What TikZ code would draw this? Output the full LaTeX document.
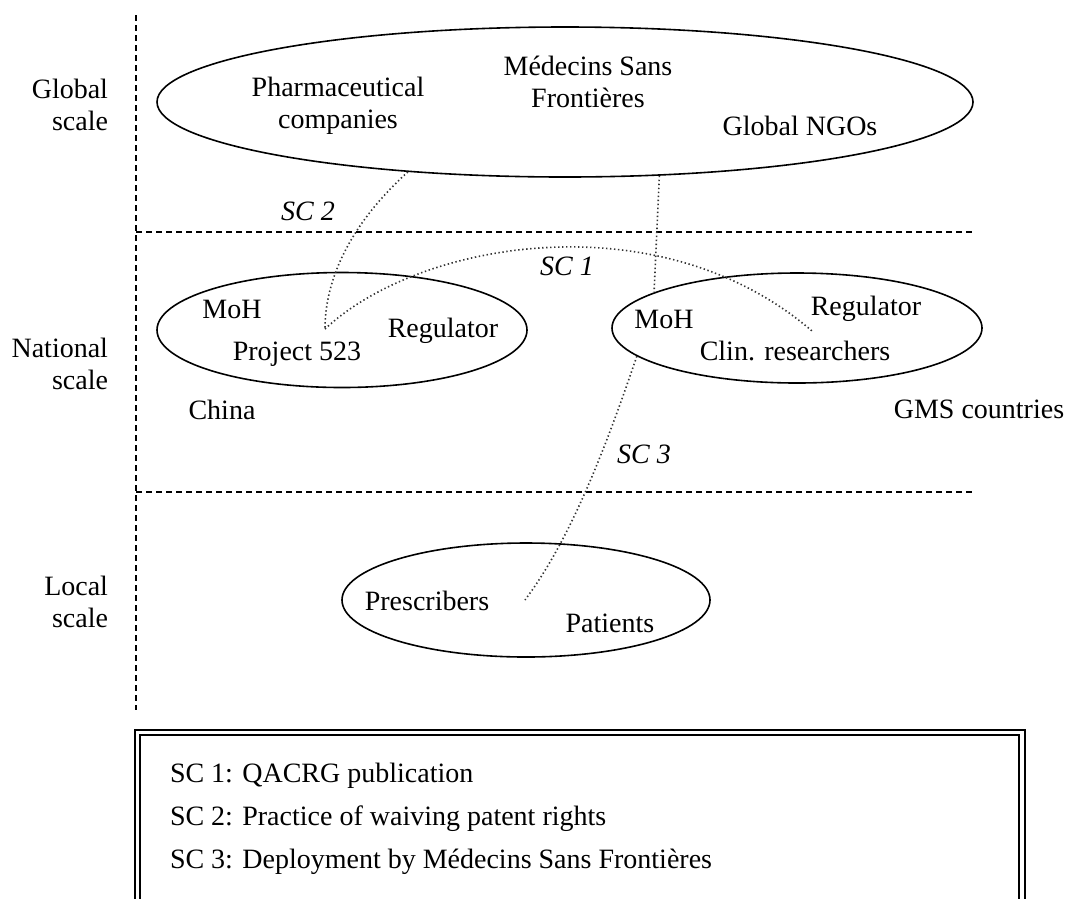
\documentclass[tikz,border=0pt]{standalone}
\usepackage{fontspec}
\setmainfont{Liberation Serif}
\usetikzlibrary{shapes.geometric}
\tikzset{
  txt/.style={font=\fontsize{28}{32}\selectfont, inner sep=0pt, outer sep=0pt},
  sclabel/.style={font=\fontsize{28}{32}\selectfont\itshape, inner sep=0pt},
  scaleline/.style={draw, line width=1.3pt, dash pattern=on 6pt off 4pt},
  region/.style={draw, ellipse, line width=1.6pt, inner sep=0pt},
  link/.style={draw=black!80, line width=1.6pt, dash pattern=on 1.4pt off 2.6pt},
  frameout/.style={draw, line width=2.4pt},
  framein/.style={draw, line width=1.4pt}
}
\begin{document}
\begin{tikzpicture}[x=1pt,y=-1pt]
\clip (0,0) rectangle (1067,898);
\fill[white] (0,0) rectangle (1067,898);

% scale separators
\coordinate (vtop) at (136,15);
\coordinate (vbot) at (136,710);
\coordinate (h1a) at (136,232);
\coordinate (h1b) at (975,232);
\coordinate (h2a) at (136,492);
\coordinate (h2b) at (975,492);
\draw[scaleline] (vtop) -- (vbot);
\draw[scaleline] (h1a) -- (h1b);
\draw[scaleline] (h2a) -- (h2b);

% scale labels (base = baseline of the last line)
\node[txt, align=right, anchor=base east] (lglobal) at (108,130) {Global\\scale};
\node[txt, align=right, anchor=base east] (lnational) at (108,389) {National\\scale};
\node[txt, align=right, anchor=base east] (llocal) at (108,627) {Local\\scale};

% ellipses
\node[region, minimum width=816pt, minimum height=150pt] (global) at (565,102) {};
\node[region, minimum width=370pt, minimum height=115pt] (china) at (342,330) {};
\node[region, minimum width=370pt, minimum height=110pt] (gms) at (797,328) {};
\node[region, minimum width=368pt, minimum height=114pt] (local) at (526,600) {};

% texts in global ellipse
\node[txt, align=center, anchor=base] (pharma) at (338,128) {Pharmaceutical\\companies};
\node[txt, align=center, anchor=base] (msf) at (588,107) {Médecins Sans\\Frontières};
\node[txt, anchor=base] (ngo) at (800,135) {Global NGOs};

% national texts
\node[txt, anchor=base] (mohc) at (232,318) {MoH};
\node[txt, anchor=base] (p523t) at (297,360) {Project 523};
\node[txt, anchor=base] (regc) at (443,337) {Regulator};
\node[txt, anchor=base] (mohg) at (664,328) {MoH};
\node[txt, anchor=base] (regg) at (866,315) {Regulator};
\node[txt, anchor=base] (clint) at (795,360) {Clin. researchers};
\node[txt, anchor=base] (chinat) at (222,419) {China};
\node[txt, anchor=base] (gmst) at (979,418) {GMS countries};

% local texts
\node[txt, anchor=base] (presct) at (427,610) {Prescribers};
\node[txt, anchor=base] (patt) at (610,632) {Patients};

% connector end points
\coordinate (p523) at (325,329);
\coordinate (clin) at (812,331);
\coordinate (presc) at (525,600);

% dotted connectors
\draw[link] (global.204) .. controls (360,215) and (325,270) .. (p523);
\draw[link] (p523) .. controls (420,240) and (660,200) .. (clin);
\draw[link] (global.-38) -- (gms.166);
\draw[link] (gms.190) .. controls (605,450) and (570,540) .. (presc);

% SC labels
\node[sclabel, anchor=base] (sc2) at (308,220) {SC 2};
\node[sclabel, anchor=base] (sc1) at (567,275) {SC 1};
\node[sclabel, anchor=base] (sc3) at (644,463) {SC 3};

% legend box
\coordinate (bo1) at (135,730);
\coordinate (bo2) at (1025,920);
\coordinate (bi1) at (140,735);
\coordinate (bi2) at (1019,920);
\draw[frameout] (bo1) rectangle (bo2);
\draw[framein] (bi1) rectangle (bi2);
\node[txt, anchor=base west] (leg1) at (170,782) {SC 1: QACRG publication};
\node[txt, anchor=base west] (leg2) at (170,825) {SC 2: Practice of waiving patent rights};
\node[txt, anchor=base west] (leg3) at (170,868) {SC 3: Deployment by Médecins Sans Frontières};
\end{tikzpicture}
\end{document}
